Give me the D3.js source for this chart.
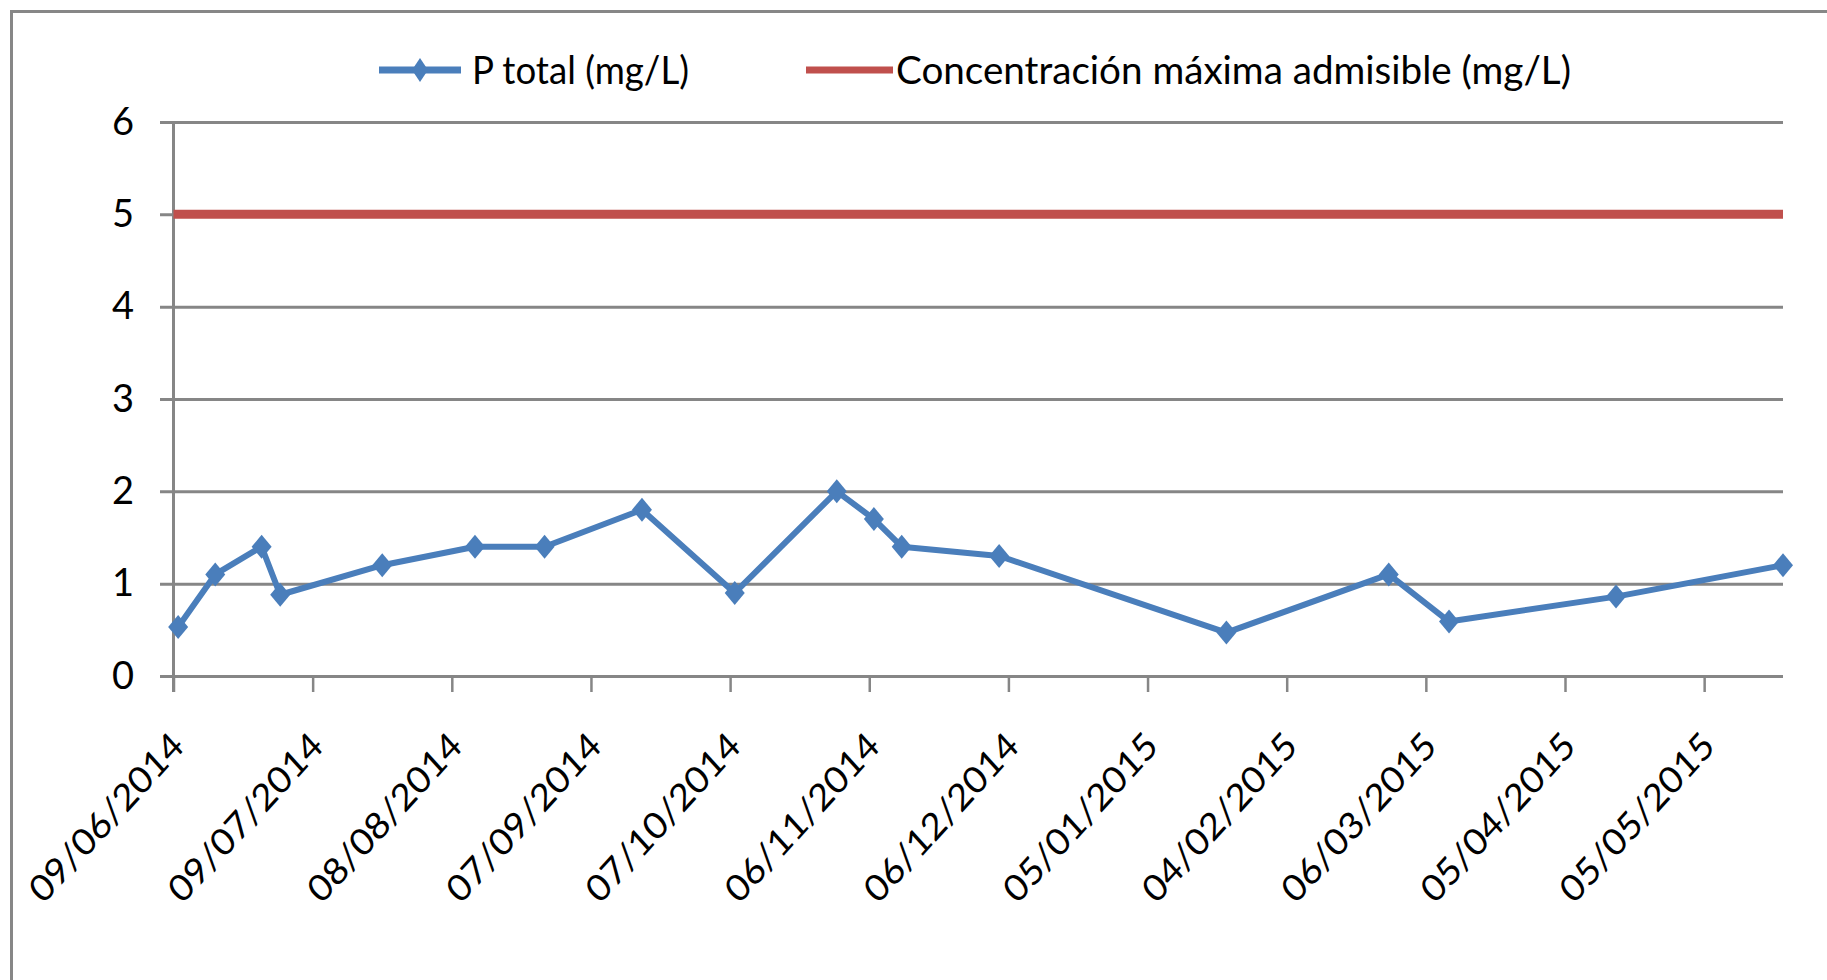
<!DOCTYPE html>
<html>
<head>
<meta charset="utf-8">
<script src="https://cdn.jsdelivr.net/npm/d3@7"></script>
<style>
  html, body { margin:0; padding:0; background:#fff; }
  svg { display:block; }
  text { font-family: Lato, "Open Sans", sans-serif; fill:#000; }
</style>
</head>
<body>
<svg id="chart" width="1827" height="980"></svg>
<script>
// sample dates and P total values
const sampleDates = ["10/06/2014","18/06/2014","28/06/2014","02/07/2014","24/07/2014","13/08/2014",
    "28/08/2014","18/09/2014","08/10/2014","30/10/2014","07/11/2014","13/11/2014","04/12/2014",
    "22/01/2015","26/02/2015","11/03/2015","16/04/2015","22/05/2015"];
const pTotal = [0.53,1.1,1.4,0.88,1.2,1.4,1.4,1.8,0.9,2.0,1.7,1.4,1.3,0.47,1.1,0.59,0.86,1.2];
// max admissible concentration
const limitDates = ["09/06/2014","22/05/2015"];
const limitValues = [5,5];
const tickLabels = ["09/06/2014","09/07/2014","08/08/2014","07/09/2014","07/10/2014","06/11/2014",
    "06/12/2014","05/01/2015","04/02/2015","06/03/2015","05/04/2015","05/05/2015"];
const yTicks = [0,1,2,3,4,5,6];
const seriesNames = ["P total (mg/L)","Concentración máxima admisible (mg/L)"];

const blue = "#4A7EBB", red = "#C0504D", grid = "#868686";
const parse = d3.utcParse("%d/%m/%Y");
const fmt = d3.utcFormat("%d/%m/%Y");

const plot = {left:173.5, right:1783, top:122, bottom:676};

const x = d3.scaleUtc()
    .domain([parse(limitDates[0]), parse(limitDates[1])])
    .range([plot.left, plot.right]);
const y = d3.scaleLinear()
    .domain([0,6])
    .range([plot.bottom, plot.top]);

const svg = d3.select("#chart");

// outer frame (top and left only visible)
svg.append("path")
    .attr("d", "M11.5,980V11.5H1827")
    .attr("fill","none")
    .attr("stroke","#878787")
    .attr("stroke-width",3);

// y gridlines + labels
const yAxis = svg.append("g")
    .attr("transform", `translate(${plot.right},0)`)
    .call(d3.axisLeft(y).tickValues(yTicks).tickSize(plot.right-160).tickPadding(26).tickFormat(d3.format("d")));
yAxis.select(".domain").remove();
yAxis.selectAll("line").attr("stroke",grid).attr("stroke-width",3);
yAxis.selectAll("text")
    .attr("font-family","Lato, sans-serif")
    .attr("font-size",38)
    .attr("fill","#000");

// x ticks + rotated labels
const xAxis = svg.append("g")
    .attr("transform", `translate(0,${plot.bottom})`)
    .call(d3.axisBottom(x).tickValues(tickLabels.map(parse)).tickSize(16).tickFormat(fmt));
xAxis.select(".domain").remove();
xAxis.selectAll("line").attr("stroke",grid).attr("stroke-width",2.5);
xAxis.selectAll("text")
    .attr("x",null).attr("y",null).attr("dy",null)
    .attr("text-anchor","end")
    .attr("font-family","Lato, sans-serif")
    .attr("font-size",37)
    .attr("fill","#000")
    .attr("textLength",222)
    .attr("lengthAdjust","spacingAndGlyphs")
    .attr("transform","translate(12,72) scale(0.91,1) rotate(-45)");

// y axis line
svg.append("line")
    .attr("x1",plot.left).attr("x2",plot.left)
    .attr("y1",plot.top).attr("y2",plot.bottom+16)
    .attr("stroke",grid).attr("stroke-width",3);

// limit line
const limitData = limitDates.map((d,i) => ({date:parse(d), value:limitValues[i]}));
const line = d3.line().x(d => x(d.date)).y(d => y(d.value));
svg.append("path")
    .datum(limitData)
    .attr("d",line)
    .attr("fill","none")
    .attr("stroke",red)
    .attr("stroke-width",9);

// P total series
const pData = sampleDates.map((d,i) => ({date:parse(d), value:pTotal[i]}));
svg.append("path")
    .datum(pData)
    .attr("d",line)
    .attr("fill","none")
    .attr("stroke",blue)
    .attr("stroke-width",6)
    .attr("stroke-linejoin","round");

function diamond(cx,cy,w,h) {
    return `M${cx},${cy-h}L${cx+w},${cy}L${cx},${cy+h}L${cx-w},${cy}Z`;
}
svg.selectAll(".dot")
    .data(pData)
    .enter().append("path")
    .attr("class","dot")
    .attr("d", d => diamond(x(d.date), y(d.value), 10, 12))
    .attr("fill",blue);

// legend
const legend = svg.append("g");
legend.append("line")
    .attr("x1",379).attr("x2",461).attr("y1",70).attr("y2",70)
    .attr("stroke",blue).attr("stroke-width",7);
legend.append("path")
    .attr("d",diamond(420,70,8,12))
    .attr("fill",blue);
legend.append("text")
    .attr("x",472).attr("y",84)
    .attr("font-size",38)
    .attr("textLength",217)
    .attr("lengthAdjust","spacingAndGlyphs")
    .text(seriesNames[0]);
legend.append("line")
    .attr("x1",806).attr("x2",893).attr("y1",70).attr("y2",70)
    .attr("stroke",red).attr("stroke-width",7);
legend.append("text")
    .attr("x",896).attr("y",84)
    .attr("font-size",38)
    .attr("textLength",675)
    .attr("lengthAdjust","spacingAndGlyphs")
    .text(seriesNames[1]);
</script>
</body>
</html>
